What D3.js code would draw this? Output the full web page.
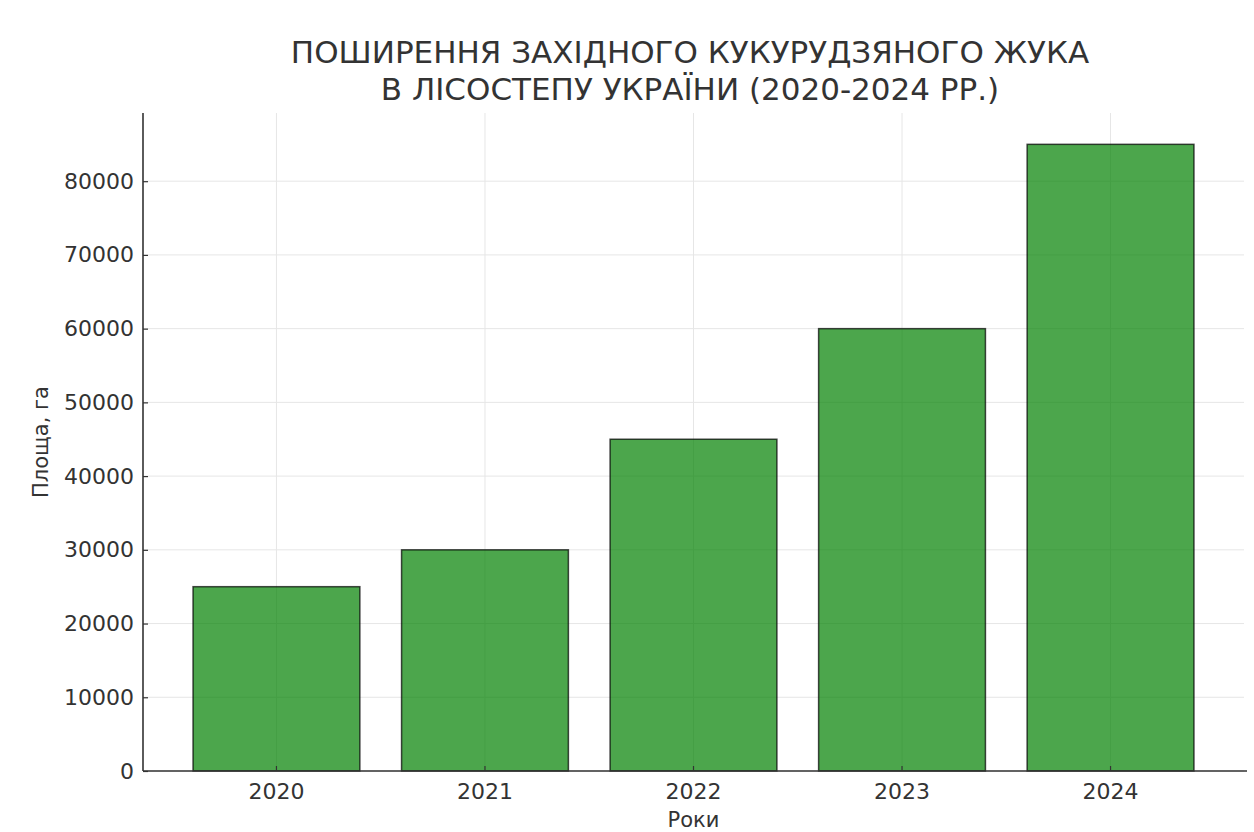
<!DOCTYPE html>
<html>
<head>
<meta charset="utf-8">
<script src="https://cdn.jsdelivr.net/npm/d3@7"></script>
<style>
  body { margin: 0; background: #fff; }
  text { font-family: "DejaVu Sans", sans-serif; fill: #333; }
</style>
</head>
<body>
<div class="chart"></div>
<script>
// дані
const years = ["2020", "2021", "2022", "2023", "2024"];
const areas = [25000, 30000, 45000, 60000, 85000];
const yTicks = [0, 10000, 20000, 30000, 40000, 50000, 60000, 70000, 80000];
const titleLines = ["ПОШИРЕННЯ ЗАХІДНОГО КУКУРУДЗЯНОГО ЖУКА", "В ЛІСОСТЕПУ УКРАЇНИ (2020-2024 РР.)"];

const width = 1254;
const height = 832;
const plotLeft = 143, plotRight = 1244, plotTop = 113, plotBottom = 771;

const svg = d3.select(".chart")
    .append("svg")
    .attr("width", width)
    .attr("height", height);

const data = years.map((y, i) => ({ year: y, value: areas[i] }));

// шкали
const xScale = d3.scaleBand()
    .domain(years)
    .range([plotLeft, plotRight])
    .paddingInner(0.2)
    .paddingOuter(0.24);

const yScale = d3.scaleLinear()
    .domain([0, 85000 * 1.05])
    .range([plotBottom, plotTop]);

// сітка
const grid = svg.append("g");
grid.selectAll("line.h")
    .data(yTicks)
    .join("line")
    .attr("class", "h")
    .attr("x1", plotLeft).attr("x2", plotRight)
    .attr("y1", d => yScale(d)).attr("y2", d => yScale(d))
    .attr("stroke", "#e6e6e6").attr("stroke-width", 1);
grid.selectAll("line.v")
    .data(years)
    .join("line")
    .attr("class", "v")
    .attr("x1", d => xScale(d) + xScale.bandwidth() / 2)
    .attr("x2", d => xScale(d) + xScale.bandwidth() / 2)
    .attr("y1", plotTop).attr("y2", plotBottom)
    .attr("stroke", "#e6e6e6").attr("stroke-width", 1);

// стовпці
svg.append("g")
    .selectAll("rect")
    .data(data)
    .join("rect")
    .attr("x", d => xScale(d.year))
    .attr("y", d => yScale(d.value))
    .attr("width", xScale.bandwidth())
    .attr("height", d => yScale(0) - yScale(d.value))
    .attr("fill", "#008000")
    .attr("fill-opacity", 0.7)
    .attr("stroke", "#000")
    .attr("stroke-opacity", 0.7)
    .attr("stroke-width", 1.5);

// осі
const yAxis = d3.axisLeft(yScale).tickValues(yTicks).tickSize(-5).tickPadding(9).tickFormat(d3.format("d"));
const yAxisGroup = svg.append("g")
    .attr("transform", `translate(${plotLeft},0)`)
    .call(yAxis);

const xAxis = d3.axisBottom(xScale).tickSize(-5).tickPadding(12);
const xAxisGroup = svg.append("g")
    .attr("transform", `translate(0,${plotBottom})`)
    .call(xAxis);

[yAxisGroup, xAxisGroup].forEach(g => {
    g.select(".domain").remove();
    g.selectAll(".tick line").attr("stroke", "#333").attr("stroke-width", 1.2);
    g.selectAll(".tick text").style("font-size", "22px").style("fill", "#333");
});

// лінії осей (ліва та нижня)
svg.append("line")
    .attr("x1", plotLeft).attr("x2", plotLeft)
    .attr("y1", plotTop).attr("y2", plotBottom)
    .attr("stroke", "#333").attr("stroke-width", 1.6);
svg.append("line")
    .attr("x1", plotLeft).attr("x2", plotRight + 3)
    .attr("y1", plotBottom).attr("y2", plotBottom)
    .attr("stroke", "#333").attr("stroke-width", 1.6);

// підписи
svg.append("text")
    .attr("x", (plotLeft + plotRight) / 2)
    .attr("y", 827)
    .attr("text-anchor", "middle")
    .style("font-size", "21px")
    .text("Роки");

svg.append("text")
    .attr("transform", `translate(48,${(plotTop + plotBottom) / 2}) rotate(-90)`)
    .attr("text-anchor", "middle")
    .style("font-size", "21px")
    .text("Площа, га");

svg.append("g")
    .selectAll("text")
    .data(titleLines)
    .join("text")
    .attr("x", 690)
    .attr("y", (d, i) => 63 + i * 37)
    .attr("text-anchor", "middle")
    .style("font-size", "31px")
    .text(d => d);
</script>
</body>
</html>
